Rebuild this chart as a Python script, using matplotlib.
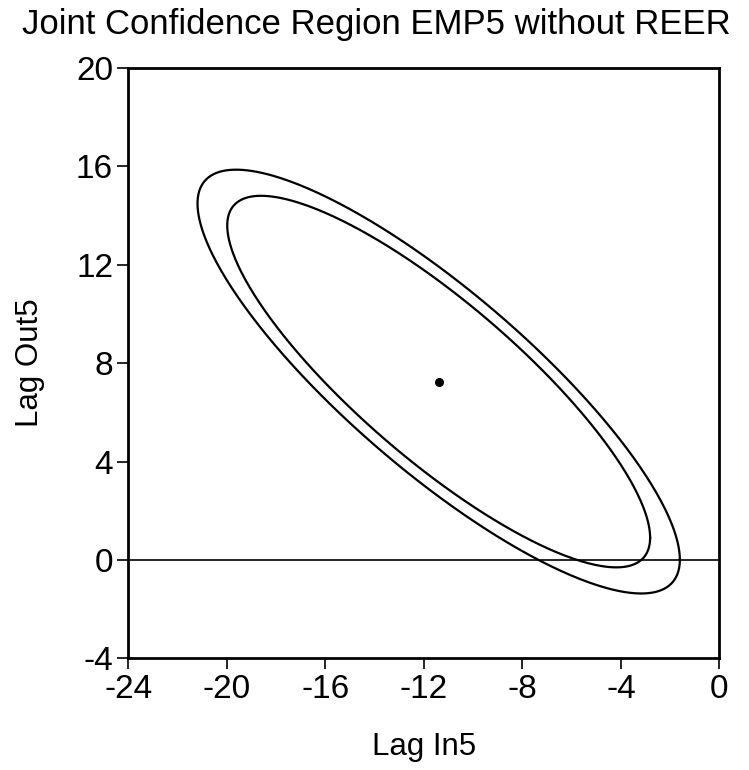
import numpy as np
import matplotlib
matplotlib.use("Agg")
import matplotlib.pyplot as plt

# point estimates of the two lag coefficients
coef_in5 = -11.40
coef_out5 = 7.25

# standard errors and correlation of the estimates
se_in5 = 4.00
se_out5 = 3.52
corr = -0.84

# chi-square (2 df) critical values for the 90% and 95% regions
levels = [0.90, 0.95]
crit_values = [4.605, 5.991]

x_ticks = [-24, -20, -16, -12, -8, -4, 0]
y_ticks = [-4, 0, 4, 8, 12, 16, 20]

plt.rcParams["font.family"] = ["Liberation Sans", "DejaVu Sans"]
plt.rcParams["axes.unicode_minus"] = False


def ellipse_points(cx, cy, sx, sy, r, crit, n=400):
    cov = np.array([[sx ** 2, r * sx * sy], [r * sx * sy, sy ** 2]])
    chol = np.linalg.cholesky(cov)
    t = np.linspace(0, 2 * np.pi, n)
    circle = np.vstack([np.cos(t), np.sin(t)])
    pts = np.sqrt(crit) * chol @ circle
    return cx + pts[0], cy + pts[1]


fig = plt.figure(figsize=(7.49, 7.70), dpi=100)
ax = fig.add_axes([0.1713, 0.1451, 0.7893, 0.7666])

for crit in crit_values:
    ex, ey = ellipse_points(coef_in5, coef_out5, se_in5, se_out5, corr, crit)
    ax.plot(ex, ey, color="black", lw=1.6)

ax.axhline(0, color="black", lw=1.2)
ax.plot([coef_in5], [coef_out5], "o", color="black", ms=5.5)

ax.set_xlim(-24, 0)
ax.set_ylim(-4, 20)
ax.set_xticks(x_ticks)
ax.set_yticks(y_ticks)
ax.tick_params(direction="out", length=8, width=1.2, labelsize=24, pad=3)
for spine in ax.spines.values():
    spine.set_linewidth(2.0)

ax.set_xlabel("Lag In5", fontsize=22.5, labelpad=20)
ax.set_ylabel("Lag Out5", fontsize=22.5, labelpad=22)
fig.text(0.503, 0.99, "Joint Confidence Region EMP5 without REER",
         ha="center", va="top", fontsize=25)

fig.savefig("out.png", dpi=100)
